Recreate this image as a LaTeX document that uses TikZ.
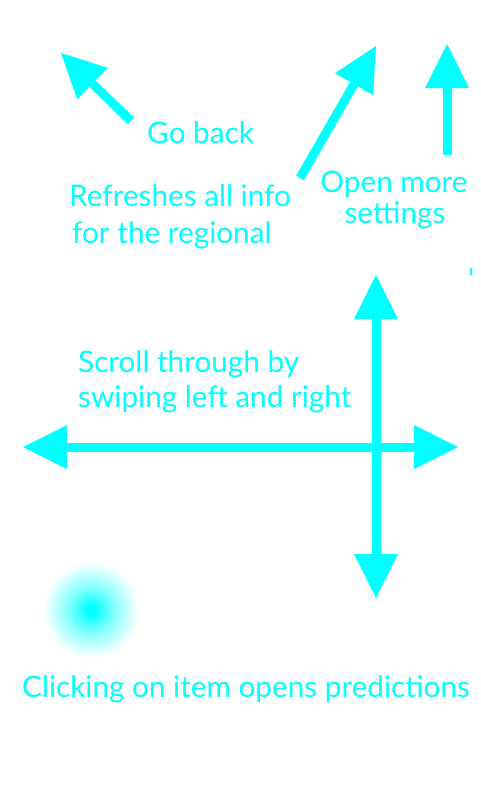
\documentclass[tikz,border=0pt]{standalone}
\usepackage{fontspec}
\setmainfont{Lato}
\usetikzlibrary{arrows.meta}
\definecolor{aqua}{RGB}{0,255,255}
\pgfdeclareradialshading{glow}{\pgfpoint{0bp}{0bp}}{color(0bp)=(aqua); color(2bp)=(aqua); color(11bp)=(aqua!50); color(24bp)=(white); color(50bp)=(white)}
\tikzset{
  lbl/.style={text=aqua, inner sep=0pt, anchor=base west, font=\fontsize{29.7}{32}\selectfont},
  bigarrow/.style={draw=aqua, line width=9pt, -{Triangle[length=44pt,width=44pt,line width=0pt]}},
  dblarrow/.style={draw=aqua, line width=9pt, {Triangle[length=44pt,width=44pt,line width=0pt]}-{Triangle[length=44pt,width=44pt,line width=0pt]}}
}
\begin{document}
\begin{tikzpicture}[x=1pt,y=-1pt]
\useasboundingbox[fill=white] (0,0) rectangle (480,800);
% arrow end points
\coordinate (backTail) at (131,121);
\coordinate (backTip) at (61,53);
\coordinate (refTail) at (300,178);
\coordinate (refTip) at (376,46);
\coordinate (setTail) at (447,155);
\coordinate (setTip) at (447,44);
\coordinate (hLeft) at (23,447);
\coordinate (hRight) at (458,447);
\coordinate (vTop) at (376,275);
\coordinate (vBottom) at (376,598);
% arrows
\draw[bigarrow] (backTail) -- (backTip);
\draw[bigarrow] (refTail) -- (refTip);
\draw[bigarrow] (setTail) -- (setTip);
\draw[dblarrow] (hLeft) -- (hRight);
\draw[dblarrow] (vTop) -- (vBottom);
% glow
\node[circle, minimum size=100pt, inner sep=0pt, shading=glow] (glow) at (91,610) {};
% small mark
\node[fill=aqua, minimum width=2pt, minimum height=7pt, inner sep=0pt] (mark) at (471,271) {};
% labels
\node[lbl] (goback) at (147,143) {Go back};
\node[lbl] (ref1) at (69,206) {Refreshes all info};
\node[lbl] (ref2) at (72,243) {for the regional};
\node[lbl, anchor=base] (set1) at (394,192) {Open more};
\node[lbl, anchor=base] (set2) at (395,223) {settings};
\node[lbl] (scr1) at (78,372) {Scroll through by};
\node[lbl] (scr2) at (78,407) {swiping left and right};
\node[lbl] (click) at (22,697) {Clicking on item opens predictions};
\end{tikzpicture}
\end{document}
